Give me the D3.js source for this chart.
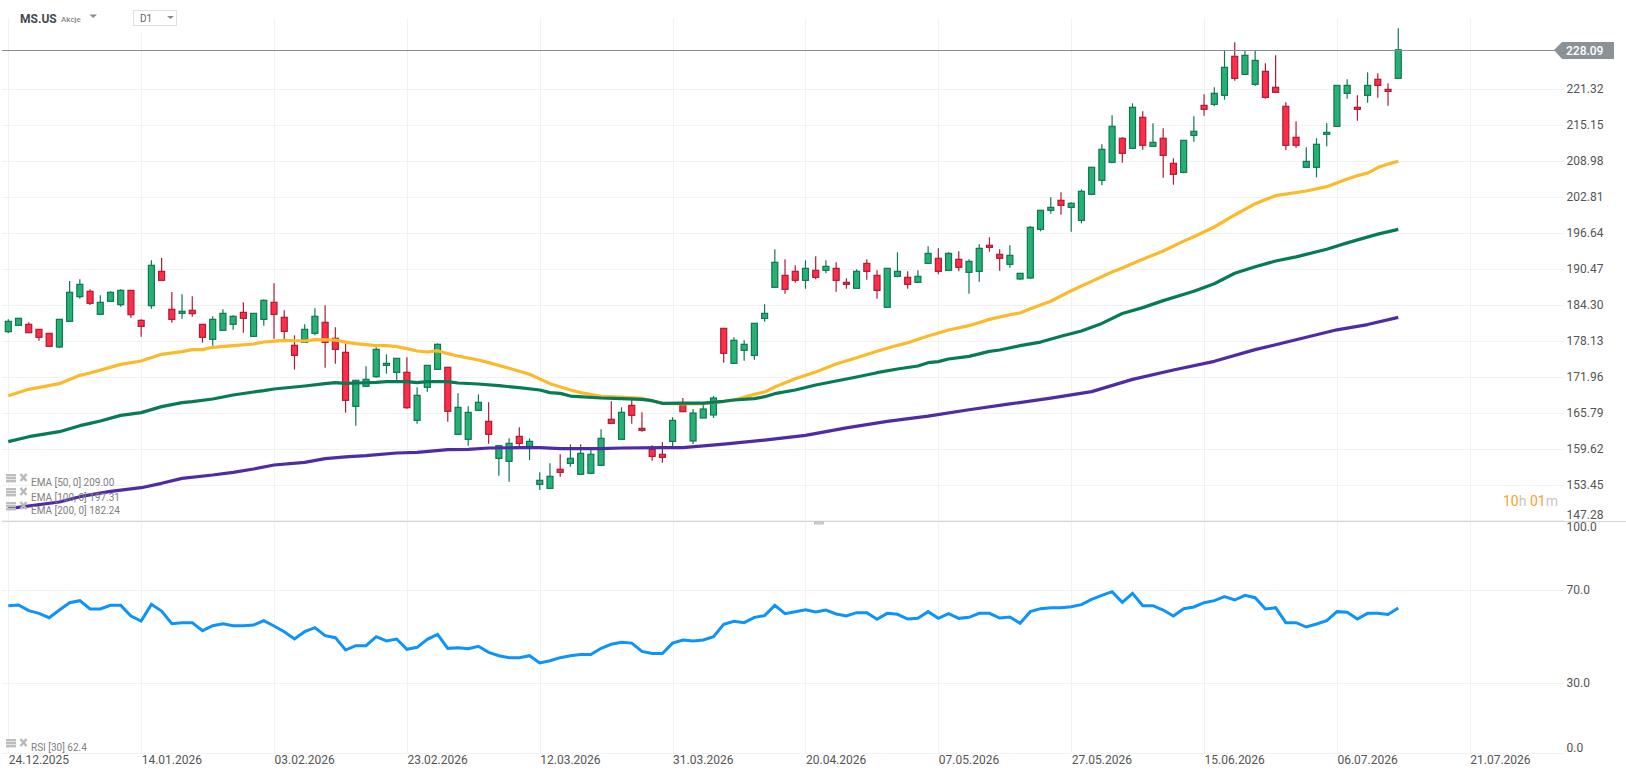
<!DOCTYPE html>
<html><head><meta charset="utf-8">
<script src="https://cdnjs.cloudflare.com/ajax/libs/d3/7.8.5/d3.min.js"></script>
<style>html,body{margin:0;padding:0;background:#fff;overflow:hidden}svg{display:block}text{font-family:Roboto,sans-serif}</style>
</head><body><svg id="c" width="1626" height="779"></svg>
<script>
const opens=[179.78,180.87,181.04,180.18,179.49,177.15,181.55,185.78,186.69,182.75,184.98,184.41,186.86,181.72,184.24,190.12,183.61,182.92,183.44,181.04,178.47,180.01,181.04,183.09,178.98,181.89,184.81,182.24,177.44,177.95,179.49,181.38,178.64,
176.24,166.98,170.41,172.07,174.01,172.81,172.81,164.58,170.24,173.33,173.67,162.18,161.33,166.30,164.41,158.07,157.56,161.84,160.13,153.61,152.93,156.19,157.21,155.33,155.50,156.87,164.76,161.33,167.15,163.21,159.61,158.76,160.98,167.21,161.04,164.98,165.50,
180.35,174.35,176.58,175.72,182.06,187.38,189.43,190.12,188.58,190.29,190.29,190.63,188.23,187.21,191.49,189.43,183.95,189.26,189.09,188.23,191.49,192.35,190.29,192.18,189.95,190.12,194.58,193.03,191.32,188.81,
188.98,197.32,200.58,202.29,201.09,198.86,203.32,205.72,208.80,212.92,211.20,216.52,211.55,212.92,208.63,207.09,213.43,218.57,218.74,220.29,226.97,223.88,222.17,224.40,221.66,218.40,213.09,207.95,207.95,213.60,214.97,220.63,218.23,220.29,223.03,221.31,223.20];
const highs=[181.89,182.07,181.38,180.18,179.49,181.89,188.47,188.75,187.04,186.01,186.69,187.04,186.86,181.89,192.01,192.41,186.58,186.18,185.84,181.04,182.41,183.61,182.58,184.81,182.92,185.32,188.06,183.44,179.15,181.04,183.78,184.29,180.52,
177.78,171.44,173.84,177.10,175.90,175.21,175.38,170.24,174.01,177.78,173.67,169.21,166.98,169.04,167.67,160.24,161.50,163.38,161.50,155.67,157.21,158.76,160.47,160.47,159.61,163.04,167.84,166.81,168.36,165.95,160.30,160.81,165.10,168.41,166.53,167.21,168.75,
180.35,178.81,178.30,181.21,184.46,193.89,192.18,191.15,192.01,192.69,192.01,191.66,188.92,190.46,192.18,190.29,190.63,193.38,190.12,190.29,194.41,194.06,193.38,193.55,192.18,194.75,195.95,193.89,194.58,189.78,
197.89,200.58,202.80,203.66,201.95,204.18,207.95,211.89,216.86,213.09,218.91,217.55,215.49,214.63,209.49,212.57,216.69,220.46,221.66,227.94,229.37,227.94,227.94,225.77,227.14,219.08,215.83,211.37,212.92,215.49,221.99,223.03,220.29,224.23,224.06,222.34,231.77];
const lows=[179.55,180.87,179.61,178.24,177.27,176.98,181.55,185.44,184.35,182.75,184.98,184.07,182.18,178.92,183.72,188.58,181.32,182.01,182.35,177.90,177.38,180.01,180.12,179.61,178.98,180.81,178.58,178.47,173.27,177.95,179.15,173.61,174.30,
165.90,163.67,170.41,171.90,172.58,171.55,166.58,164.01,169.50,173.33,164.36,162.18,160.24,166.30,160.59,155.10,154.07,160.07,157.79,152.64,152.93,154.93,156.64,155.33,155.50,156.87,164.07,161.33,164.01,162.64,157.67,157.33,160.07,166.07,160.53,164.98,164.98,
174.47,174.35,174.81,174.98,181.49,187.38,186.29,188.18,187.15,188.75,189.78,186.63,187.15,187.21,188.69,185.43,183.95,189.09,187.15,188.23,191.49,189.61,190.29,190.12,186.29,188.35,193.49,190.23,190.75,188.64,
188.81,196.98,200.00,199.83,196.92,198.35,203.15,204.86,208.63,208.75,211.20,210.97,211.55,206.17,204.97,206.92,212.34,216.80,218.40,219.54,222.80,223.88,221.94,219.71,220.80,210.86,211.32,207.95,206.23,211.55,214.97,219.71,215.94,219.03,219.88,218.51,223.20];
const closes=[181.55,182.07,179.61,178.81,177.27,181.89,186.52,187.89,184.64,184.81,186.52,186.86,182.69,180.69,191.15,188.58,181.89,183.27,182.87,178.81,181.89,182.92,182.41,182.07,182.92,185.15,182.75,179.84,175.72,180.18,182.41,177.95,176.75,
168.01,171.44,171.61,176.75,174.35,175.21,166.75,168.87,174.01,177.61,166.13,166.81,165.95,167.67,162.18,160.24,160.64,160.64,160.98,154.30,154.99,155.67,158.07,158.93,158.76,161.50,164.07,165.95,165.44,162.87,158.41,158.24,164.58,166.07,165.84,166.53,168.41,
176.07,178.30,177.61,181.21,182.92,191.66,187.04,188.58,190.63,189.09,190.98,188.58,187.89,190.12,190.12,186.86,190.63,190.12,187.89,189.26,193.20,190.12,193.20,190.81,191.83,194.06,194.23,192.35,192.86,189.78,
197.66,200.58,201.09,201.43,201.78,203.83,207.95,211.03,214.97,210.34,218.23,211.72,212.23,210.00,206.75,212.57,214.12,217.89,220.63,225.08,223.20,227.14,226.28,219.94,220.80,211.72,211.72,208.97,211.89,213.94,221.99,221.99,217.89,221.99,221.99,220.97,228.09];
const rsiValues=[63.36,63.65,61.21,60.07,58.21,61.5,64.65,65.51,61.93,61.93,63.5,63.5,58.93,56.78,63.93,61.07,55.64,56.06,56.06,52.63,54.78,55.64,54.78,54.78,55.06,56.92,54.63,52.2,49.05,52.2,53.92,50.49,49.63,44.33,46.19,46.19,50.06,48.2,49.05,44.62,45.48,48.91,51.06,45.05,45.34,44.9,45.91,
43.3,41.9,41.05,41.05,41.9,38.8,39.7,41.05,41.9,42.4,42.4,45.05,46.8,47.7,47.3,43.7,42.8,42.8,47.3,
48.63,48.2,48.63,50.06,55.35,56.64,56.06,58.35,59.07,63.5,59.93,60.79,61.64,60.64,61.5,59.78,58.93,60.36,60.36,57.5,60.07,59.64,57.64,57.92,60.79,57.92,59.93,57.92,58.35,60.07,60.07,58.07,58.5,55.78,60.79,62.07,62.5,62.5,62.93,63.79,66.08,67.8,69.37,64.79,68.65,63.36,63.36,61.5,58.93,62.07,62.79,64.65,65.51,67.22,65.79,67.8,66.79,61.93,62.5,56.06,56.06,54.2,55.49,56.92,60.79,60.5,57.64,60.07,60.07,59.6,62.4];
const ema50Points=[[0,168.81],[2,169.90],[5,170.87],[7,172.30],[8,172.70],[11,174.18],[13,174.75],[15,175.90],[17,176.35],[18,176.70],[19,176.70],[20,177.10],[22,177.38],[24,177.67],[25,178.01],[27,178.30],[29,178.18],[30,178.41],[32,178.35],[33,178.0],[34,177.72],[35,177.55],[36,177.38],[37,177.38],[38,177.21],[39,176.87],[40,176.47],[41,176.30],[42,176.52],[43,176.01],[44,175.61],[46,174.92],[47,174.47],[49,173.50],[51,172.47],[53,170.87],[55,169.78],[56,169.33],[58,168.70],[60,168.58],[62,168.36],[64,167.50],[66,167.38],[68,167.45],[70,167.85],[71,168.07],[73,169.04],[74,169.44],[75,170.30],[77,171.72],[79,172.87],[81,174.24],[83,175.32],[85,176.41],[87,177.44],[88,177.89],[90,179.04],[92,180.06],[94,180.81],[96,181.89],[98,182.69],[99,182.98],[100,183.7],[102,185.0],[104,186.8],[106,188.4],[108,190.0],[109,190.7],[111,192.2],[113,193.6],[115,195.3],[116,196.06],[118,197.72],[120,199.78],[122,201.72],[124,203.09],[127,203.89],[129,204.63],[131,205.95],[132,206.52],[133,206.95],[134,207.9],[135,208.5],[136,209.00]];
const ema100Points=[[0,160.93],[2,161.78],[5,162.64],[7,163.67],[8,164.07],[9,164.47],[11,165.44],[13,165.90],[15,166.93],[17,167.61],[18,167.78],[20,168.24],[22,168.93],[24,169.44],[25,169.67],[26,169.95],[29,170.47],[31,170.87],[32,171.04],[33,170.93],[34,170.98],[36,171.10],[37,171.21],[39,171.21],[40,171.04],[41,171.21],[43,171.21],[44,170.98],[46,170.81],[48,170.53],[50,170.18],[52,169.78],[53,169.33],[54,169.21],[55,168.75],[58,168.41],[60,168.30],[62,168.18],[63,167.95],[64,167.50],[66,167.55],[68,167.55],[70,167.85],[71,168.07],[73,168.30],[74,168.64],[75,169.15],[77,169.78],[79,170.64],[81,171.32],[83,172.01],[85,172.75],[87,173.38],[89,173.89],[90,174.47],[91,174.64],[92,175.10],[94,175.55],[96,176.41],[97,176.64],[99,177.38],[101,178.0],[103,179.0],[105,179.9],[107,181.2],[109,182.9],[111,183.9],[113,185.1],[116,186.7],[118,188.0],[120,189.8],[122,190.9],[124,191.9],[126,192.6],[129,193.9],[131,195.0],[134,196.5],[136,197.31]];
const ema200Points=[[0,149.44],[5,150.59],[7,151.50],[10,152.42],[13,153.04],[15,153.79],[17,154.64],[20,155.21],[22,155.67],[24,156.24],[26,156.93],[29,157.39],[31,158.01],[33,158.33],[35,158.53],[38,158.99],[40,159.10],[43,159.56],[45,159.61],[47,159.84],[50,159.90],[52,159.90],[54,159.73],[58,159.73],[60,159.84],[64,159.90],[66,159.90],[70,160.5],[74,161.2],[78,162.0],[82,163.3],[86,164.4],[90,165.3],[94,166.4],[98,167.4],[102,168.4],[106,169.5],[110,171.6],[114,173.2],[118,174.7],[122,176.7],[126,178.4],[130,180.1],[133,181.0],[136,182.24]];
const priceTicks=[221.32,215.15,208.98,202.81,196.64,190.47,184.30,178.13,171.96,165.79,159.62,153.45,147.28];
const rsiTicks=[100,70,30,0];
const dateTicks=[0,13,26,39,52,65,78,91,104,117,130,143];
const dateLabels=["24.12.2025","14.01.2026","03.02.2026","23.02.2026","12.03.2026","31.03.2026","20.04.2026","07.05.2026","27.05.2026","15.06.2026","06.07.2026","21.07.2026"];
const lastPrice=228.09;
const legends=["EMA [50, 0] 209.00","EMA [100, 0] 197.31","EMA [200, 0] 182.24"];

const svg=d3.select("#c");
const x=d3.scaleLinear().domain([0,143]).range([8.3,1469.8]);
const yP=d3.scaleLinear().domain([147.28,221.32]).range([521.3,89.3]);
const yR=d3.scaleLinear().domain([0,100]).range([753.3,520.3]);
const GRID="#f2f2f2", TXT="#555";

const gx=svg.append("g").attr("transform","translate(0,753.3)").call(d3.axisBottom(x).tickValues(dateTicks).tickSize(-735).tickFormat((d,i)=>dateLabels[i]));
gx.select(".domain").remove();
gx.selectAll("line").attr("stroke",GRID).attr("shape-rendering","crispEdges");
gx.selectAll("text").attr("text-anchor","start").attr("x",0).attr("y",2).attr("dy","0.71em").attr("fill",TXT).style("font-size","12px").style("font-family","Roboto");

const gy=svg.append("g").attr("transform","translate(1564,0)").call(d3.axisRight(yP).tickValues(priceTicks).tickSize(-1562).tickFormat(d3.format(".2f")));
gy.select(".domain").remove();
gy.selectAll("line").attr("stroke",GRID).attr("shape-rendering","crispEdges");
gy.selectAll("text").attr("fill",TXT).attr("x",2.5).attr("y",-0.6).style("font-size","12px").style("font-family","Roboto");
gy.selectAll("text").filter(d=>d===147.28).attr("y",-6.5);

const gr=svg.append("g").attr("transform","translate(1564,0)").call(d3.axisRight(yR).tickValues(rsiTicks).tickSize(-1562).tickFormat(d3.format(".1f")));
gr.select(".domain").remove();
gr.selectAll("line").attr("stroke",GRID).attr("shape-rendering","crispEdges");
gr.selectAll("text").attr("fill",TXT).attr("x",2.5).attr("y",-0.8).style("font-size","12px").style("font-family","Roboto");
gr.selectAll("text").filter(d=>d===100).attr("y",6);
gr.selectAll("text").filter(d=>d===0).attr("y",-5.8);

const idx=d3.range(opens.length);
const UPF="#26b074",UPS="#0f7753",DNF="#ff2d46",DNS="#ac1c38";
const cg=svg.append("g");
cg.selectAll("line").data(idx).join("line")
 .attr("x1",i=>x(i)).attr("x2",i=>x(i)).attr("y1",i=>yP(highs[i])).attr("y2",i=>yP(lows[i]))
 .attr("stroke",i=>closes[i]>=opens[i]?UPS:DNS).attr("stroke-width",1.2);
cg.selectAll("rect").data(idx).join("rect")
 .attr("x",i=>x(i)-3).attr("width",6)
 .attr("y",i=>yP(Math.max(opens[i],closes[i])))
 .attr("height",i=>Math.max(1,Math.abs(yP(opens[i])-yP(closes[i]))))
 .attr("fill",i=>closes[i]>=opens[i]?UPF:DNF)
 .attr("stroke",i=>closes[i]>=opens[i]?UPS:DNS).attr("stroke-width",1.2);

const ln=d3.line().x(d=>x(d[0])).y(d=>yP(d[1]));
[[ema50Points,"#fbb92c"],[ema100Points,"#067b54"],[ema200Points,"#4f2ba4"]].forEach(([p,c])=>{
 svg.append("path").attr("d",ln(p)).attr("fill","none").attr("stroke",c).attr("stroke-width",3.2).attr("stroke-linejoin","round");
});

svg.append("path").attr("d",d3.line().x((d,i)=>x(i)).y(d=>yR(d))(rsiValues)).attr("fill","none").attr("stroke","#0d94fb").attr("stroke-width",3);

svg.append("line").attr("x1",2).attr("x2",1626).attr("y1",521.5).attr("y2",521.5).attr("stroke","#d4d4d4").attr("stroke-width",1);
svg.append("rect").attr("x",814.5).attr("y",522).attr("width",9).attr("height",2).attr("fill","#ddd").attr("stroke","#aaa").attr("stroke-width",0.7);

svg.append("rect").attr("x",0).attr("y",0).attr("width",1626).attr("height",18).attr("fill","#fff");
svg.append("rect").attr("x",100).attr("y",18).attr("width",90).attr("height",14).attr("fill","#fff");
svg.append("text").attr("x",20).attr("y",22.5).attr("font-size",12).attr("font-weight",700).attr("fill","#444b50").text("MS.US");
svg.append("text").attr("x",61).attr("y",21.5).attr("font-size",8).attr("font-weight",500).attr("fill","#888").text("Akcje");
svg.append("path").attr("d","M89.5 14.5 L97 14.5 L93.2 18 Z").attr("fill","#8a8a8a");
svg.append("rect").attr("x",133.5).attr("y",10.5).attr("width",43).attr("height",15).attr("fill","#fff").attr("stroke","#e0e0e0");
svg.append("text").attr("x",140).attr("y",22).attr("font-size",10).attr("fill","#666").text("D1");
svg.append("path").attr("d","M167 16 L174 16 L170.5 19 Z").attr("fill","#8a8a8a");

svg.append("line").attr("x1",2).attr("x2",1555).attr("y1",50.5).attr("y2",50.5).attr("stroke","#83909a").attr("stroke-width",1).attr("shape-rendering","crispEdges");
svg.append("path").attr("d","M1554 50 L1562 42 L1614 42 L1614 59 L1562 59 Z").attr("fill","#8a9297");
svg.append("text").attr("x",1566).attr("y",54.5).attr("font-size",12).attr("font-weight",500).attr("fill","#fff").text(lastPrice.toFixed(2));

function icons(y){
 const g=svg.append("g").attr("fill","#bdbdbd");
 g.append("rect").attr("x",6).attr("y",y-6).attr("width",10).attr("height",2.4);
 g.append("rect").attr("x",6).attr("y",y-3).attr("width",10).attr("height",2.4);
 g.append("rect").attr("x",6).attr("y",y).attr("width",10).attr("height",2.4);
 svg.append("path").attr("d",`M20.5 ${y-6} L26.5 ${y+1} M26.5 ${y-6} L20.5 ${y+1}`).attr("stroke","#b8b8b8").attr("stroke-width",2.4);
}
legends.forEach((t,i)=>{
 const y=[480,494,508][i]; icons(y);
 svg.append("text").attr("x",31).attr("y",[486,500.5,514][i]).attr("font-size",10).attr("fill","#808080").text(t);
});
icons(745);
svg.append("text").attr("x",31).attr("y",751).attr("font-size",10).attr("fill","#808080").text("RSI [30] 62.4");

const cd=svg.append("text").attr("x",1503).attr("y",506).attr("font-size",14);
[["10","#f9a02b"],["h ","#c6c6c6"],["01","#f9a02b"],["m","#c6c6c6"]].forEach(([t,c])=>cd.append("tspan").attr("fill",c).text(t));
</script></body></html>
